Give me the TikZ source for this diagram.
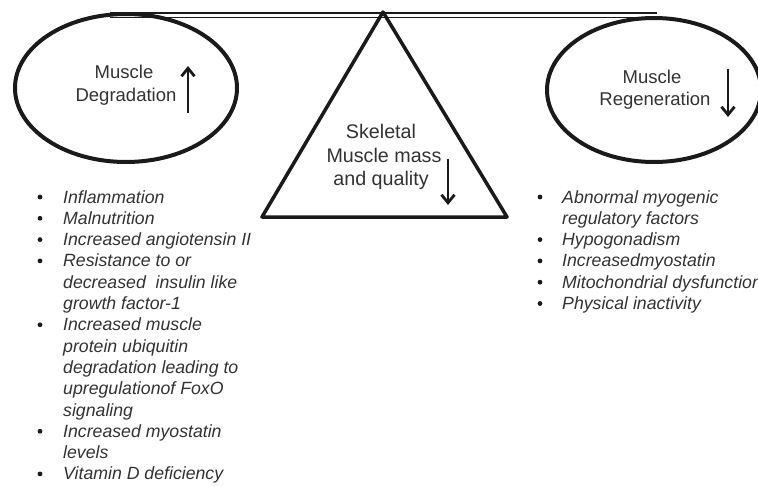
\documentclass[tikz,border=0pt]{standalone}
\usepackage{fontspec}
\setmainfont{Liberation Sans}
\usetikzlibrary{arrows.meta}
\usetikzlibrary{shapes.geometric}

\definecolor{inkline}{HTML}{1A1A1A}
\definecolor{inktext}{HTML}{333333}

\begin{document}
\begin{tikzpicture}[x=1pt,y=-1pt,>={Straight Barb[length=8pt,width=13pt]},
  oval/.style={draw=inkline,line width=4pt,ellipse,inner sep=0pt},
  caption/.style={text=inktext,inner sep=0pt,anchor=base,font=\fontsize{18.5}{22}\selectfont},
  item/.style={text=inktext,inner sep=0pt,anchor=base west,font=\fontsize{17.7}{21}\selectfont\itshape},
  trend/.style={->,draw=inkline,line width=2.8pt}]

\def\lineskip{21.3}
\def\firstline{203}

\useasboundingbox (0,0) rectangle (758,487);
\clip (0,0) rectangle (758,487);
\fill[white] (0,0) rectangle (758,487);

% balance beam
\coordinate (beamL) at (110,13);
\coordinate (beamR) at (657,13);
\draw[inkline,line width=1.5pt] (beamL) -- (beamR);
\draw[inkline,line width=1.5pt] ([yshift=-4.5pt]beamL) -- ([yshift=-4.5pt]beamR);

% the two pans
\node[oval,minimum width=222pt,minimum height=148pt] (degr) at (126,88) {};
\node[oval,minimum width=214pt,minimum height=144pt] (regen) at (654,90) {};

% fulcrum
\coordinate (apex) at (383,12);
\coordinate (baseL) at (262,217);
\coordinate (baseR) at (507,217);
\draw[inkline,line width=3.5pt,line join=round] (apex) -- (baseL) -- (baseR) -- cycle;

\node[caption] (degr1) at (124,78) {Muscle};
\node[caption] (degr2) at (126,102) {Degradation};
\coordinate (upS) at (188,113);
\coordinate (upE) at (188,66);
\draw[trend] (upS) -- (upE);

\node[caption] (regen1) at (652,84) {Muscle};
\node[caption] (regen2) at (655,106) {Regeneration};
\coordinate (dnS) at (728,69);
\coordinate (dnE) at (728,117);
\draw[trend] (dnS) -- (dnE);

\node[caption,font=\fontsize{19.7}{23}\selectfont] (mass1) at (381,138) {Skeletal};
\node[caption,font=\fontsize{19.7}{23}\selectfont] (mass2) at (384,162) {Muscle mass};
\node[caption,font=\fontsize{19.7}{23}\selectfont] (mass3) at (381,185) {and quality};
\coordinate (massS) at (448,159);
\coordinate (massE) at (448,205);
\draw[trend] (massS) -- (massE);

%% causes of degradation
\foreach \i/\b/\txt in {0/1/Inflammation,1/1/Malnutrition,2/1/Increased angiotensin II,
    3/1/Resistance to or,4/0/decreased\ \ insulin like,5/0/growth factor-1,
    6/1/Increased muscle,7/0/protein ubiquitin,8/0/degradation leading to,
    9/0/upregulationof FoxO,10/0/signaling,11/1/Increased myostatin,12/0/levels,
    13/1/Vitamin D deficiency}{
  \node[item] (left\i) at (63,{\firstline+\i*\lineskip}) {\txt};
  \ifnum\b=1
    \fill[inkline] (40,{\firstline+\i*\lineskip-6}) circle (2.4pt);
  \fi
}

%% causes of poor regeneration
\foreach \i/\b/\txt in {0/1/Abnormal myogenic,1/0/regulatory factors,2/1/Hypogonadism,
    3/1/Increasedmyostatin,4/1/Mitochondrial dysfunction,5/1/Physical inactivity}{
  \node[item] (right\i) at (562,{\firstline+\i*\lineskip}) {\txt};
  \ifnum\b=1
    \fill[inkline] (540,{\firstline+\i*\lineskip-6}) circle (2.4pt);
  \fi
}

\end{tikzpicture}
\end{document}
